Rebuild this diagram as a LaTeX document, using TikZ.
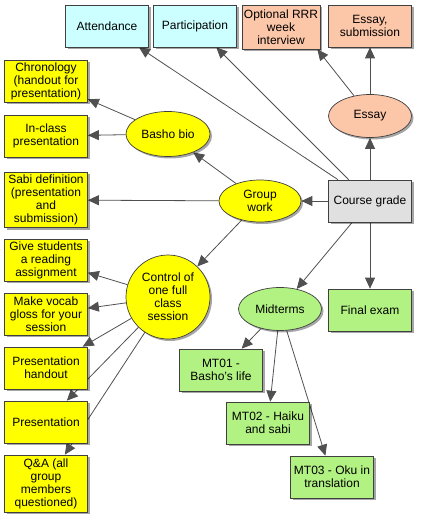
\documentclass[tikz,border=0pt]{standalone}
\usepackage{fontspec}
\setmainfont{Liberation Sans}
\usetikzlibrary{arrows.meta,shapes.geometric,shadows,backgrounds,calc}
\definecolor{cyanbox}{HTML}{CCFFFF}
\definecolor{salmonbox}{HTML}{FCC6A8}
\definecolor{yellowbox}{HTML}{FFFF00}
\definecolor{greenbox}{HTML}{B2F282}
\definecolor{graybox}{HTML}{E0E0E0}
\definecolor{edgecol}{HTML}{505050}
\definecolor{bordercol}{HTML}{404040}
\tikzset{
  every node/.style={font=\fontsize{12}{13}\selectfont, align=center, inner sep=0pt},
  shad/.style={drop shadow={shadow xshift=2pt, shadow yshift=-2pt, opacity=0.35, fill=black}},
  box/.style={rectangle, draw=bordercol, line width=0.7pt, minimum width=83pt, minimum height=42pt, shad},
  oval/.style={ellipse, draw=bordercol, line width=0.7pt, minimum width=83pt, minimum height=43pt, shad},
  cyanb/.style={box, fill=cyanbox},
  salb/.style={box, fill=salmonbox},
  yelb/.style={box, fill=yellowbox},
  greb/.style={box, fill=greenbox},
  conn/.style={draw=edgecol, line width=0.8pt, -{Triangle[length=11pt,width=10pt]}, color=edgecol},
}
\begin{document}
\begin{tikzpicture}[x=1pt,y=-1pt]
\useasboundingbox (0,0) rectangle (420,521);
% top row
\node[cyanb] (att) at (107,26) {Attendance};
\node[cyanb] (part) at (195,26) {Participation};
\node[salb, minimum width=78pt, minimum height=44pt] (rrr) at (281,27) {Optional RRR\\week\\interview};
\node[salb] (esub) at (370,26) {Essay,\\submission};
% essay
\node[oval, fill=salmonbox] (essay) at (370,116) {Essay};
% course grade
\node[box, fill=graybox] (cg) at (370,201) {Course grade};
% group work
\node[oval, fill=yellowbox, minimum width=82pt, minimum height=42pt] (gw) at (260,201) {Group\\work};
% basho bio
\node[oval, fill=yellowbox, minimum width=84pt, minimum height=45pt] (bb) at (168,134) {Basho bio};
% left column
\node[yelb] (chron) at (46,81) {Chronology\\(handout for\\presentation)};
\node[yelb] (incl) at (46,136) {In-class\\presentation};
\node[yelb, minimum height=55pt] (sabi) at (46,200) {Sabi definition\\(presentation\\and\\submission)};
\node[yelb] (give) at (46,260) {Give students\\a reading\\assignment};
\node[yelb] (vocab) at (46,314) {Make vocab\\gloss for your\\session};
\node[yelb] (phand) at (46,368) {Presentation\\handout};
\node[yelb] (pres) at (46,422) {Presentation};
\node[yelb, minimum height=57pt] (qa) at (46,483.5) {Q\&A (all\\group\\members\\questioned)};
% control
\node[circle, draw=bordercol, line width=0.7pt, fill=yellowbox, minimum size=84pt, shad] (ctrl) at (168,297) {Control of\\one full\\class\\session};
% midterms
\node[oval, fill=greenbox] (mid) at (280,309) {Midterms};
\node[greb] (final) at (370,310) {Final exam};
\node[greb] (mt1) at (221,370) {MT01 -\\Basho's life};
\node[greb] (mt2) at (268,423) {MT02 - Haiku\\and sabi};
\node[greb] (mt3) at (332,477) {MT03 - Oku in\\translation};
% connectors
\begin{scope}[on background layer]
\draw[conn] (cg) -- (att);
\draw[conn] (cg) -- (part);
\draw[conn] (cg) -- (essay);
\draw[conn] (essay) -- (esub);
\coordinate (rrrtip) at ($(rrr.south east)+(-3,0)$);
\draw[conn] (essay) -- (rrrtip);
\draw[conn] (cg) -- (gw);
\draw[conn] (cg) -- (mid);
\draw[conn] (cg) -- (final);
\draw[conn] (gw) -- (bb);
\draw[conn] (gw) -- (sabi);
\draw[conn] (gw) -- (ctrl);
\draw[conn] (bb) -- (chron);
\draw[conn] (bb) -- (incl);
\draw[conn] (ctrl) -- (give);
\draw[conn] (ctrl) -- (vocab);
\draw[conn] (ctrl) -- (phand);
\draw[conn] (ctrl) -- (pres);
\draw[conn] (ctrl) -- (qa);
\draw[conn] (mid) -- (mt1);
\draw[conn] (mid) -- (mt2);
\draw[conn] (mid) -- (mt3);
\end{scope}
\end{tikzpicture}
\end{document}
